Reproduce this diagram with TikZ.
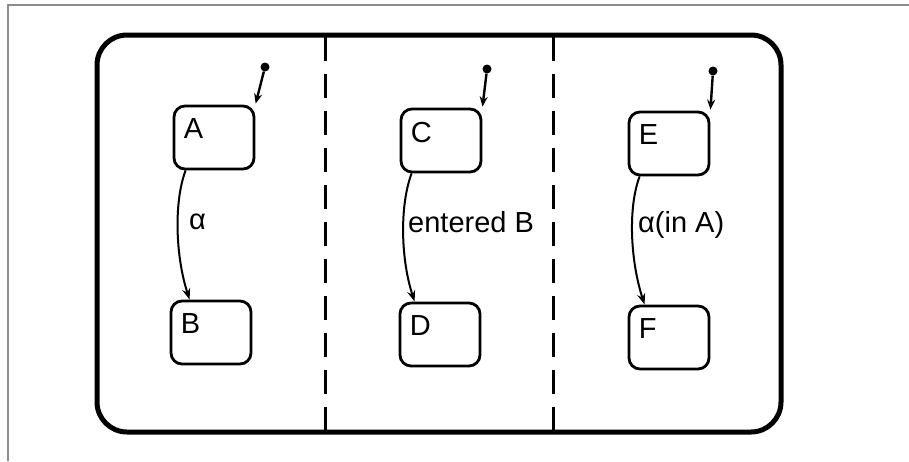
\documentclass[tikz,border=0pt]{standalone}
\usepackage{fontspec}
\setmainfont{Liberation Sans}
\usetikzlibrary{arrows.meta}

\begin{document}
\begin{tikzpicture}[x=1pt, y=-1pt, font=\fontsize{29}{33}\selectfont,
  state/.style={draw, line width=2.8pt, rounded corners=11pt, minimum width=80pt, minimum height=63pt, inner sep=0pt},
  statename/.style={anchor=north west, inner sep=0pt, xshift=11pt, yshift=-14pt},
  dot/.style={circle, fill, inner sep=0pt, minimum size=9pt},
  init/.style={line width=2.4pt, -{Stealth[length=10pt, width=8pt]}, shorten >=1pt},
  trans/.style={line width=2pt, -{Stealth[length=11pt, width=8pt]}},
  lab/.style={anchor=west, inner sep=0pt},
  divider/.style={line width=3pt, dash pattern=on 24pt off 13pt}]
\useasboundingbox (0,0) rectangle (909,461);
\draw[gray!90, line width=2pt] (909,5) -- (8,5) -- (8,461);
% outer state and its three parts
\draw[line width=5pt, rounded corners=30pt] (97,35) rectangle (781,432);
\draw[divider] (325,37) -- (325,430);
\draw[divider] (553,37) -- (553,430);
% states
\node[state, label={[statename, name=Atxt]north west:A}] (A) at (214,137.5) {};
\node[state, label={[statename, name=Btxt]north west:B}] (B) at (211,332.5) {};
\node[state, label={[statename, name=Ctxt]north west:C}] (C) at (441,140.5) {};
\node[state, label={[statename, name=Dtxt]north west:D}] (D) at (440,334.5) {};
\node[state, label={[statename, name=Etxt]north west:E}] (E) at (669,143.5) {};
\node[state, label={[statename, name=Ftxt]north west:F}] (F) at (669,337.5) {};
% default entries
\node[dot] (initA) at (265,67) {};
\node[dot] (initC) at (487,69) {};
\node[dot] (initE) at (713,71) {};
\draw[init] (initA) -- (A.north east);
\draw[init] (initC) -- (C.north east);
\draw[init] (initE) -- (E.north east);
% transitions
\draw[trans] ([xshift=13pt]A.south west) .. controls +(-12,32) and +(-14,-43) .. ([xshift=20pt]B.north west);
\draw[trans] ([xshift=12pt]C.south west) .. controls +(-12,32) and +(-14,-43) .. ([xshift=16pt]D.north west);
\draw[trans] ([xshift=12pt]E.south west) .. controls +(-12,32) and +(-14,-43) .. ([xshift=17pt]F.north west);
\node[lab] (alpha) at (189,222) {α};
\node[lab] (enteredB) at (408,222) {entered B};
\node[lab] (alphaInA) at (638,225) {α(in A)};
\end{tikzpicture}
\end{document}
